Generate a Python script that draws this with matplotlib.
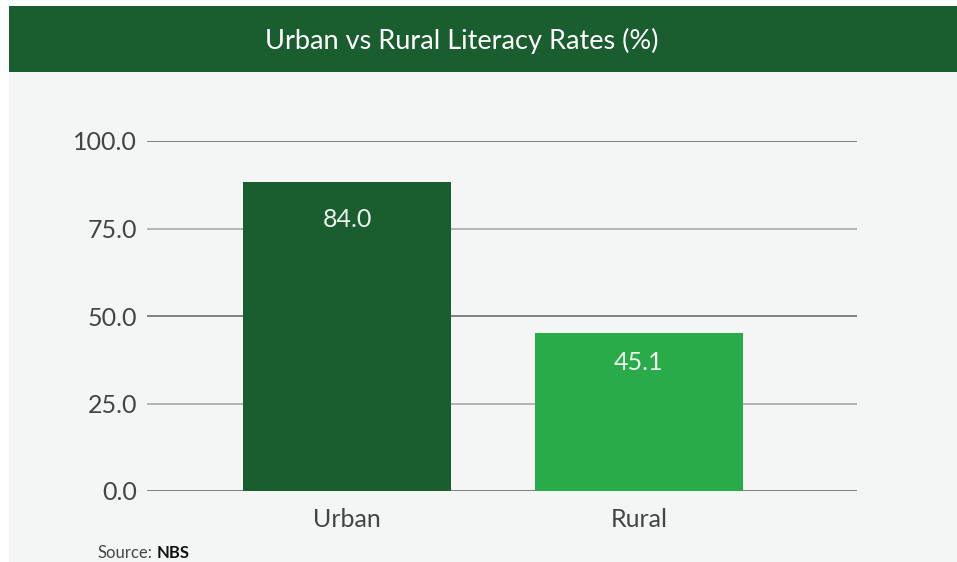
import matplotlib.pyplot as plt
from matplotlib.patches import Rectangle

# data
categories = ['Urban', 'Rural']
bar_heights = [88.3, 45.1]
value_labels = ['84.0', '45.1']
y_ticks = [0, 25, 50, 75, 100]

# colours
c_dark = '#1a5e30'
c_light = '#2aab4a'
c_bg = '#f4f6f5'

plt.rcParams['font.family'] = ['Lato', 'DejaVu Sans']

fig = plt.figure(figsize=(9.57, 5.62), dpi=100)
fig.patch.set_facecolor('white')

# light background panel + green header band
fig.patches.append(Rectangle((9 / 957, 0), 1, 1 - 72 / 562, transform=fig.transFigure,
                             facecolor=c_bg, edgecolor='none', zorder=-2))
fig.patches.append(Rectangle((9 / 957, 1 - 72 / 562), 1, 66 / 562, transform=fig.transFigure,
                             facecolor=c_dark, edgecolor='none', zorder=-2))
fig.text(462 / 957, 1 - 41 / 562, 'Urban vs Rural Literacy Rates (%)', color='white',
         fontsize=19.5, ha='center', va='center')

ax = fig.add_axes([147 / 957, 1 - 491 / 562, 710 / 957, 350 / 562])
ax.set_facecolor('none')

x = range(len(categories))
ax.bar(x, bar_heights, width=0.712, color=[c_dark, c_light], zorder=3)

# gridlines: 0/50/100 darker, 25/75 lighter
for t in y_ticks:
    ax.axhline(t, color='#777777' if t % 50 == 0 else '#b0b0b0', lw=1.3, zorder=1)

offsets = [-38, -29]
for xi, h, lab, off in zip(x, bar_heights, value_labels, offsets):
    ax.annotate(lab, xy=(xi, h), xytext=(0, off * 0.72), textcoords='offset points',
                ha='center', va='center', color='#eef4ee', fontsize=18)

ax.set_xlim(-0.685, 1.747)
ax.set_ylim(0, 100)
ax.set_yticks(y_ticks)
ax.set_yticklabels([f'{t:.1f}' for t in y_ticks])
ax.set_xticks(list(x))
ax.set_xticklabels(categories)
ax.tick_params(axis='both', length=0, labelsize=18, labelcolor='#444444')
ax.tick_params(axis='y', pad=7)
ax.tick_params(axis='x', pad=12)
for s in ax.spines.values():
    s.set_visible(False)

fig.text(97 / 957, 1 - 553 / 562, 'Source:', fontsize=12, color='#444444',
         ha='left', va='center')
fig.text(157 / 957, 1 - 553 / 562, 'NBS', fontsize=12, color='#111111',
         ha='left', va='center', fontweight='bold')

plt.savefig('out.png', dpi=100, facecolor=fig.get_facecolor())
